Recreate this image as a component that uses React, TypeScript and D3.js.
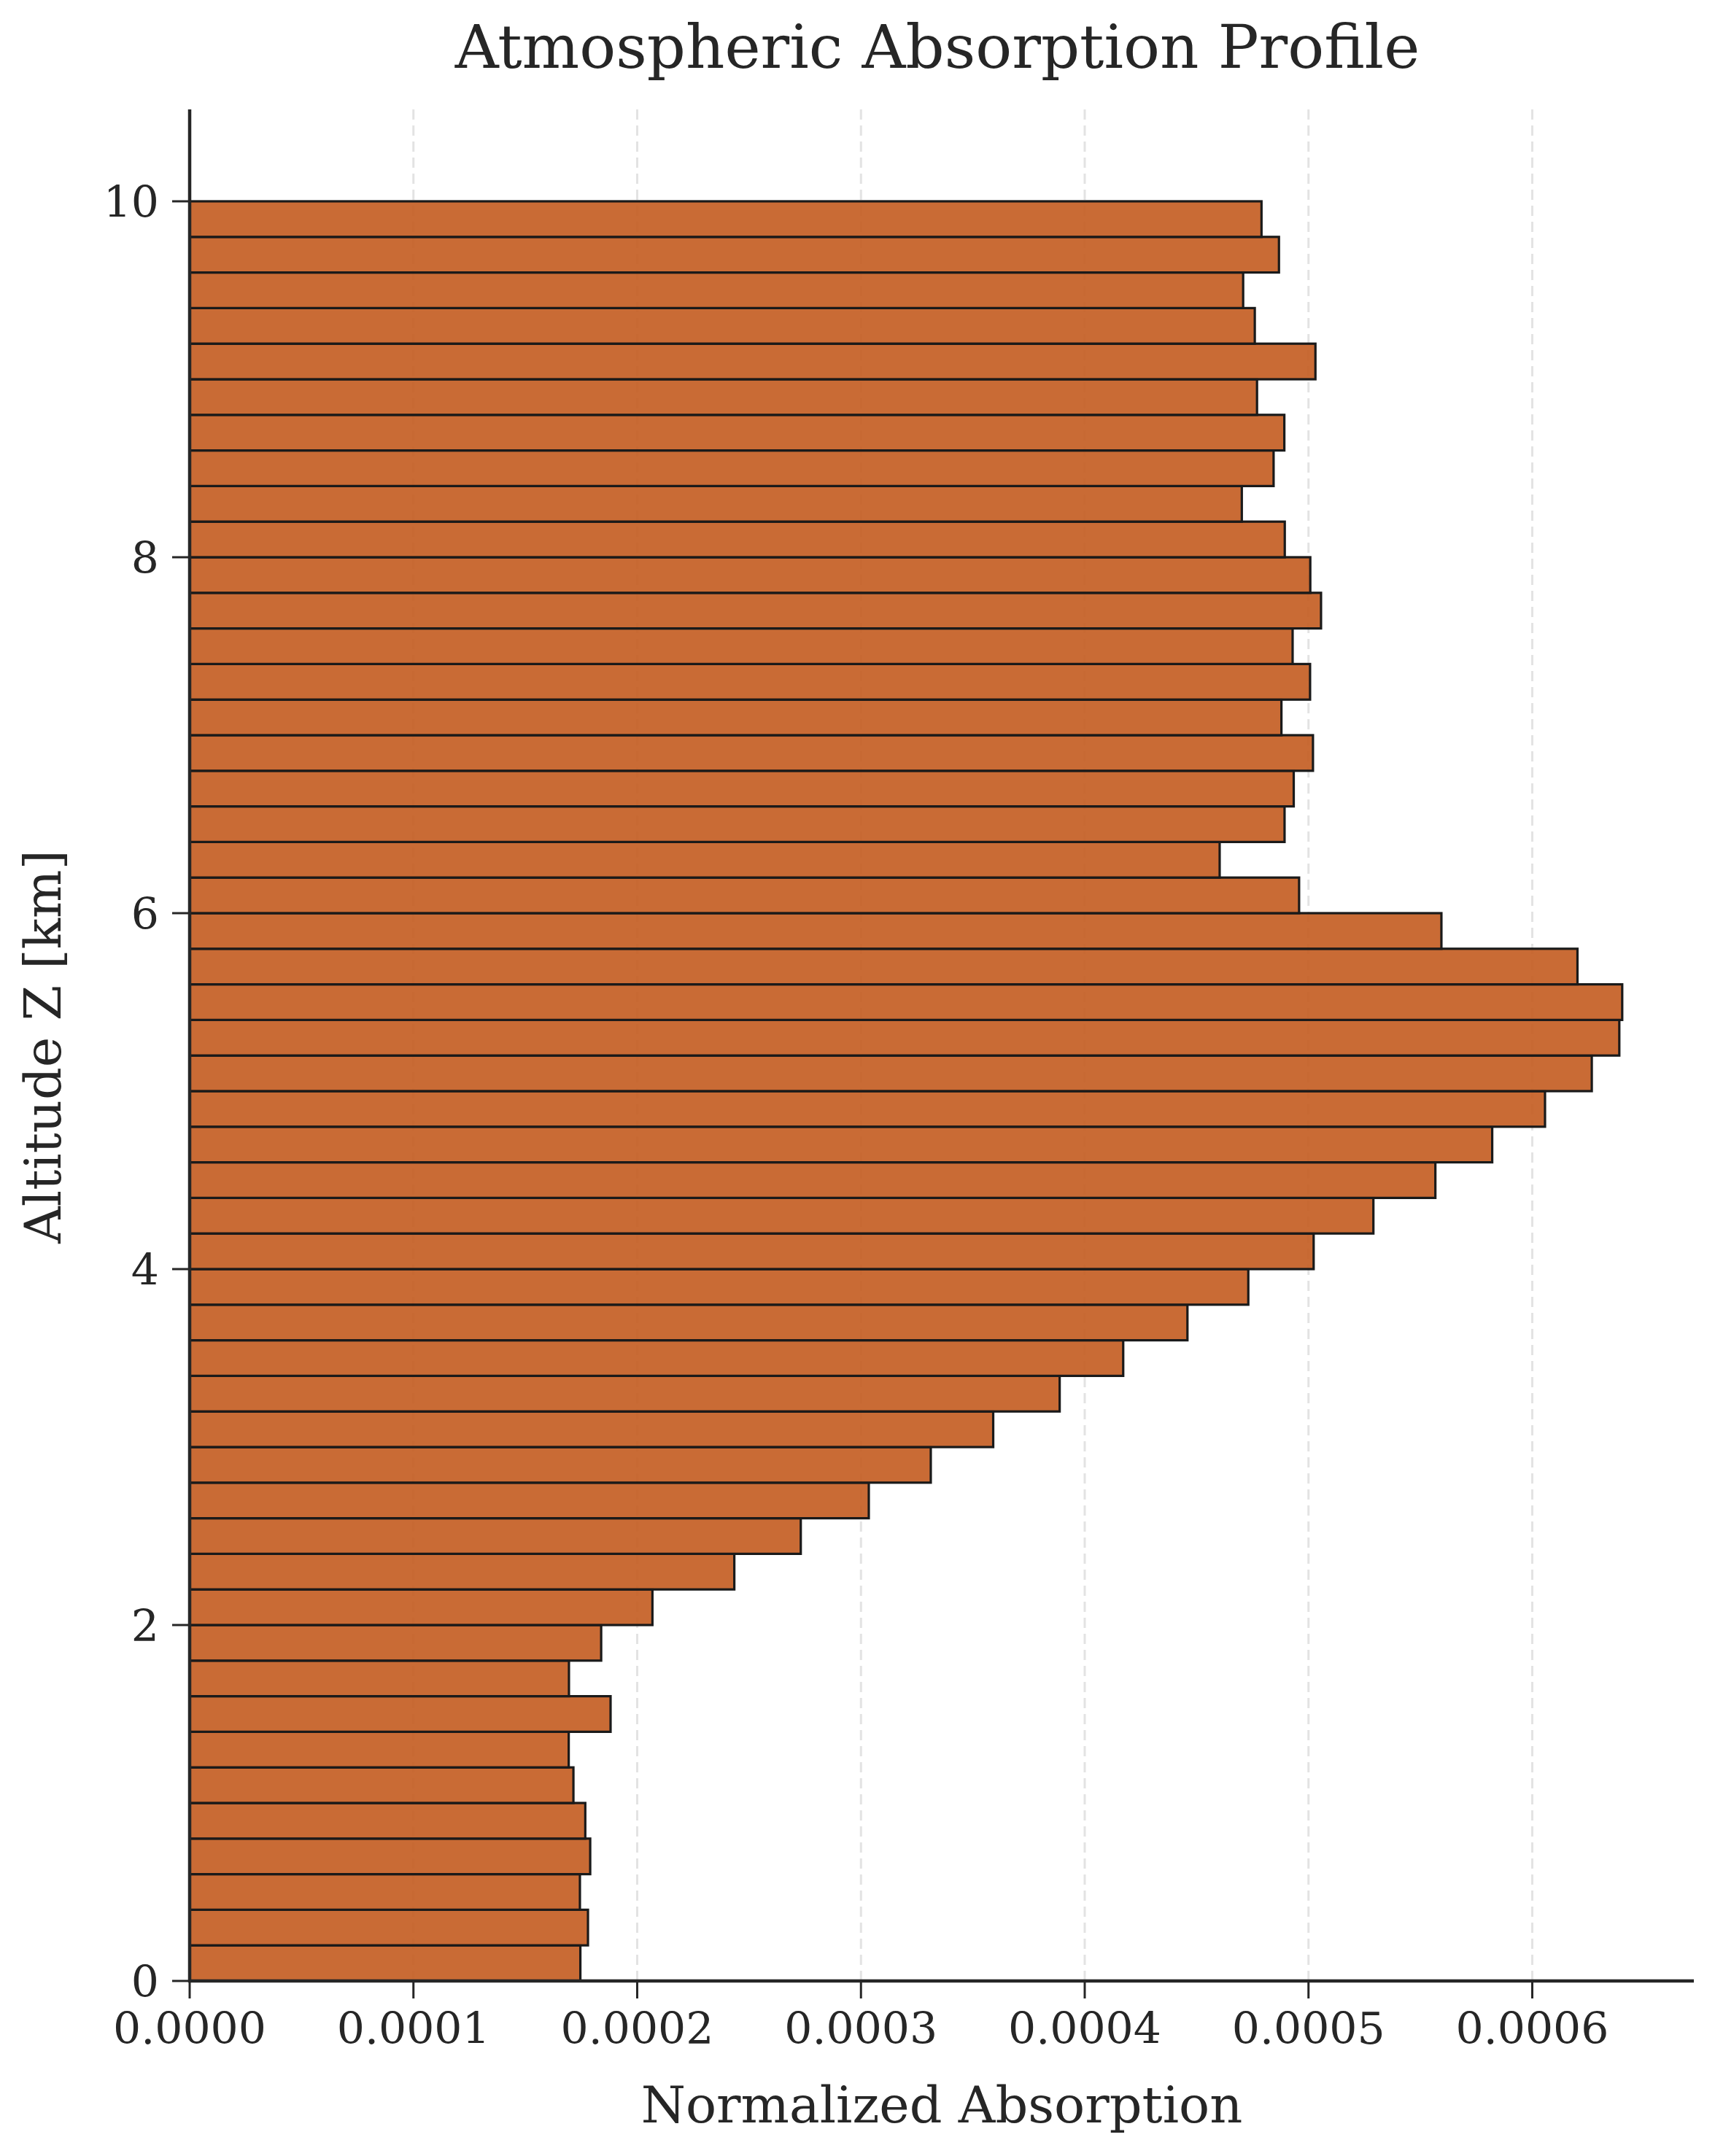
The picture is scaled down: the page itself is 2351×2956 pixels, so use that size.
import * as d3 from 'd3';

// lower edge of each 0.2 km altitude bin
const binStarts = [
  0.0, 0.2, 0.4, 0.6, 0.8, 1.0, 1.2, 1.4, 1.6, 1.8,
  2.0, 2.2, 2.4, 2.6, 2.8, 3.0, 3.2, 3.4, 3.6, 3.8,
  4.0, 4.2, 4.4, 4.6, 4.8, 5.0, 5.2, 5.4, 5.6, 5.8,
  6.0, 6.2, 6.4, 6.6, 6.8, 7.0, 7.2, 7.4, 7.6, 7.8,
  8.0, 8.2, 8.4, 8.6, 8.8, 9.0, 9.2, 9.4, 9.6, 9.8,
];
const binWidth = 0.2;

// normalized absorption per bin (x 1e-4)
const absorption = [
  1.746, 1.780, 1.744, 1.790, 1.768, 1.715, 1.694, 1.881, 1.695, 1.839,
  2.068, 2.434, 2.731, 3.035, 3.312, 3.591, 3.888, 4.172, 4.459, 4.731,
  5.023, 5.290, 5.567, 5.821, 6.057, 6.266, 6.389, 6.402, 6.202, 5.594,
  4.958, 4.603, 4.893, 4.934, 5.020, 4.879, 5.007, 4.929, 5.056, 5.008,
  4.894, 4.702, 4.844, 4.892, 4.770, 5.031, 4.760, 4.708, 4.868, 4.790,
];

const xTicks = [0, 0.0001, 0.0002, 0.0003, 0.0004, 0.0005, 0.0006];
const yTicks = [0, 2, 4, 6, 8, 10];

const W = 2351;
const H = 2956;
const margin = { top: 154, right: 29, bottom: 240, left: 260 };
const font = "'DejaVu Serif', serif";
const ink = '#262626';

export default function App() {
  const bins = binStarts.map((z, i) => ({ z0: z, z1: z + binWidth, v: absorption[i] * 1e-4 }));
  const maxV = d3.max(bins, d => d.v) as number;

  const x = d3.scaleLinear().domain([0, maxV * 1.05]).range([margin.left, W - margin.right]);
  const y = d3.scaleLinear().domain([0, 10.5]).range([H - margin.bottom, margin.top]);

  const [x0, x1] = x.range();
  const [yb, yt] = y.range();
  const cx = (x0 + x1) / 2;
  const cy = (yb + yt) / 2;

  return (
    <svg width={W} height={H} style={{ position: 'absolute', left: 0, top: 0, background: '#fff' }}>
      {/* dashed vertical grid */}
      {xTicks.slice(1).map(t => (
        <line key={t} x1={x(t)} x2={x(t)} y1={yt - 4} y2={yb}
          stroke="#e3e3e3" strokeWidth={3} strokeDasharray="14 8" />
      ))}

      {/* histogram bars */}
      {bins.map(b => (
        <rect key={b.z0} x={x(0)} y={y(b.z1)} width={x(b.v) - x(0)} height={y(b.z0) - y(b.z1)}
          fill="#c35b1f" fillOpacity={0.9} stroke="#1a1a1a" strokeWidth={3.2} />
      ))}

      {/* spines */}
      <line x1={x0} x2={x0} y1={yt - 4} y2={yb + 2} stroke={ink} strokeWidth={4.5} />
      <line x1={x0 - 2} x2={x1} y1={yb} y2={yb} stroke={ink} strokeWidth={4.5} />

      {/* x axis */}
      {xTicks.map(t => (
        <g key={t}>
          <line x1={x(t)} x2={x(t)} y1={yb} y2={yb + 24} stroke={ink} strokeWidth={3} />
          <text x={x(t)} y={yb + 86} textAnchor="middle" fontFamily={font} fontSize={60} fill={ink}>
            {d3.format('.4f')(t)}
          </text>
        </g>
      ))}

      {/* y axis */}
      {yTicks.map(t => (
        <g key={t}>
          <line x1={x0} x2={x0 - 24} y1={y(t)} y2={y(t)} stroke={ink} strokeWidth={3} />
          <text x={x0 - 42} y={y(t)} dy="0.36em" textAnchor="end" fontFamily={font} fontSize={60} fill={ink}>
            {t}
          </text>
        </g>
      ))}

      <text x={cx} y={2910} textAnchor="middle" fontFamily={font} fontSize={70} fill={ink}>
        Normalized Absorption
      </text>
      <text transform={`translate(83,${cy}) rotate(-90)`} textAnchor="middle" fontFamily={font} fontSize={70} fill={ink}>
        Altitude Z [km]
      </text>
      <text x={cx - 6} y={93} textAnchor="middle" fontFamily={font} fontSize={83} fill={ink}>
        Atmospheric Absorption Profile
      </text>
    </svg>
  );
}
